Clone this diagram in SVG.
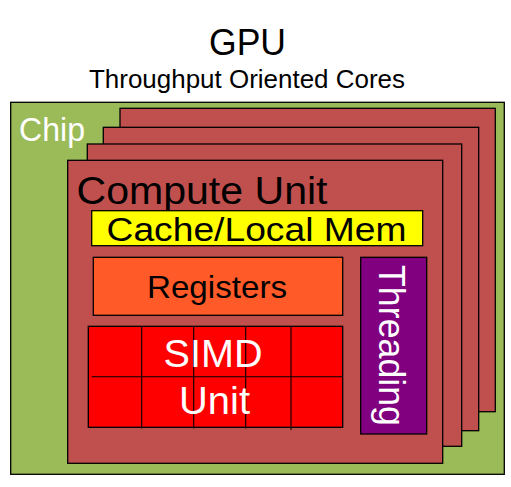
<svg xmlns="http://www.w3.org/2000/svg" width="511" height="487" viewBox="0 0 511 487">
<style>
  .box { stroke: #000; stroke-width: 1.3; }
  .cu { fill: #C0504D; stroke: #000; stroke-width: 1.3; }
  .t { font-family: "Liberation Sans", Arial, sans-serif; }
  .w { fill: #fff; }
  .k { fill: #000; }
  .grid line { stroke: #000; stroke-width: 1.1; }
</style>
<rect width="511" height="487" fill="#fff"/>
<g id="title">
  <text class="t k" x="209" y="55" font-size="36" textLength="77" lengthAdjust="spacingAndGlyphs">GPU</text>
  <text class="t k" x="89" y="87.5" font-size="26" textLength="316" lengthAdjust="spacingAndGlyphs">Throughput Oriented Cores</text>
</g>
<g id="chip">
  <rect class="box" x="10.7" y="102.3" width="493.6" height="372" fill="#9BBB59"/>
  <text class="t w" x="19" y="141" font-size="33" textLength="66" lengthAdjust="spacingAndGlyphs">Chip</text>
</g>
<g id="cu-back-1"><rect class="cu" x="120" y="108.3" width="375.3" height="303.4"/></g>
<g id="cu-back-2"><rect class="cu" x="103.3" y="127.3" width="375.4" height="303.4"/></g>
<g id="cu-back-3"><rect class="cu" x="87.3" y="144" width="374.4" height="302.3"/></g>
<g id="compute-unit">
  <rect class="cu" x="67.7" y="160.3" width="375" height="303"/>
  <text class="t k" x="76.5" y="204.3" font-size="39" textLength="251" lengthAdjust="spacingAndGlyphs">Compute Unit</text>
</g>
<g id="cache">
  <rect class="box" x="91.7" y="210.7" width="331" height="35" fill="#FFFF00"/>
  <text class="t k" x="106.5" y="240.5" font-size="34" textLength="300" lengthAdjust="spacingAndGlyphs">Cache/Local Mem</text>
</g>
<g id="registers">
  <rect class="box" x="93.3" y="257.3" width="249.4" height="58" fill="#FF5A28"/>
  <text class="t k" x="147" y="298" font-size="32" textLength="140" lengthAdjust="spacingAndGlyphs">Registers</text>
</g>
<g id="simd">
  <rect class="box" x="88.3" y="326.3" width="254.4" height="101" fill="#FF0000"/>
  <g class="grid">
    <line x1="91.7" y1="376.7" x2="342.7" y2="376.7"/>
    <line x1="141.7" y1="326.3" x2="141.7" y2="428.5"/>
    <line x1="193.7" y1="326.3" x2="193.7" y2="428.5"/>
    <line x1="245.7" y1="326.3" x2="245.7" y2="428.5"/>
    <line x1="291" y1="326.3" x2="291" y2="430"/>
  </g>
  <text class="t w" x="163.5" y="366.7" font-size="39" textLength="99" lengthAdjust="spacingAndGlyphs">SIMD</text>
  <text class="t w" x="179" y="414" font-size="39" textLength="71" lengthAdjust="spacingAndGlyphs">Unit</text>
</g>
<g id="threading">
  <rect class="box" x="360.7" y="257.3" width="66" height="176.7" fill="#800080"/>
  <text class="t w" transform="translate(379,265) rotate(90)" x="0" y="0" font-size="36" textLength="161" lengthAdjust="spacingAndGlyphs">Threading</text>
</g>
<g id="connectors"></g>
</svg>
